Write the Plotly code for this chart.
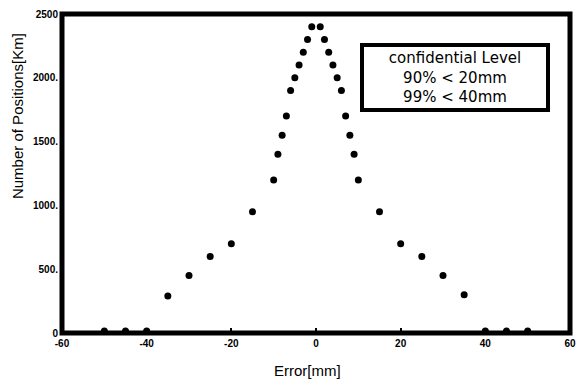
import plotly.graph_objects as go

# Error [mm] and number of positions
error_mm = [-50, -45, -40, -35, -30, -25, -20, -15, -10, -9, -8, -7, -6, -5, -4, -3, -2, -1,
            1, 2, 3, 4, 5, 6, 7, 8, 9, 10, 15, 20, 25, 30, 35, 40, 45, 50]
positions = [15, 15, 15, 290, 450, 600, 700, 950, 1200, 1400, 1550, 1700, 1900, 2000, 2100, 2200, 2300, 2400,
             2400, 2300, 2200, 2100, 2000, 1900, 1700, 1550, 1400, 1200, 950, 700, 600, 450, 300, 15, 15, 15]

x_ticks = [-60, -40, -20, 0, 20, 40, 60]
y_ticks = [0, 500, 1000, 1500, 2000, 2500]
y_tick_text = ["0", "500.", "1000.", "1500.", "2000.", "2500"]
box_lines = ["confidential Level", "90% < 20mm", "99% < 40mm"]
x_title = "Error[mm]"
y_title = "Number of Positions[Km]"

fig = go.Figure()
fig.add_trace(go.Scatter(
    x=error_mm, y=positions, mode="markers",
    marker=dict(symbol="circle", size=7, color="black"),
    cliponaxis=False, showlegend=False,
))

tick_font = dict(family="Liberation Sans", size=10, color="black", weight="bold")
fig.update_layout(
    width=577, height=374,
    margin=dict(l=54, r=15, t=6, b=49),
    paper_bgcolor="white", plot_bgcolor="white",
    xaxis=dict(
        range=[-60, 60], tickvals=x_ticks, ticktext=[str(v) for v in x_ticks],
        showgrid=False, zeroline=False, automargin=False,
        showline=False,
        ticks="inside", ticklen=5, tickwidth=2, tickcolor="black",
        tickfont=tick_font, ticklabelstandoff=3,
    ),
    yaxis=dict(
        range=[0, 2500], tickvals=y_ticks, ticktext=y_tick_text,
        showgrid=False, zeroline=False, automargin=False,
        showline=False,
        ticks="", tickfont=tick_font, ticklabelstandoff=3,
    ),
    shapes=[dict(type="rect", xref="paper", yref="paper", x0=0, x1=1, y0=0, y1=1,
                 line=dict(color="black", width=5), layer="above")],
)

fig.add_annotation(
    xref="paper", yref="paper", x=-0.0886, y=0.68, xanchor="center", yanchor="middle",
    text=y_title, textangle=-90, showarrow=False,
    font=dict(family="Liberation Sans", size=15, color="black"),
)
fig.add_annotation(
    xref="paper", yref="paper", x=0.484, y=-0.116, xanchor="center", yanchor="middle",
    text=x_title, showarrow=False,
    font=dict(family="Liberation Sans", size=15, color="black"),
)

fig.add_annotation(
    xref="paper", yref="paper", x=0.774, y=0.801, xanchor="center", yanchor="middle",
    text="<br>".join(box_lines), showarrow=False,
    font=dict(family="DejaVu Sans", size=15, color="black"),
    bordercolor="black", borderwidth=4, borderpad=2, bgcolor="white",
    width=178, align="center",
)

fig.write_html("out.html")
